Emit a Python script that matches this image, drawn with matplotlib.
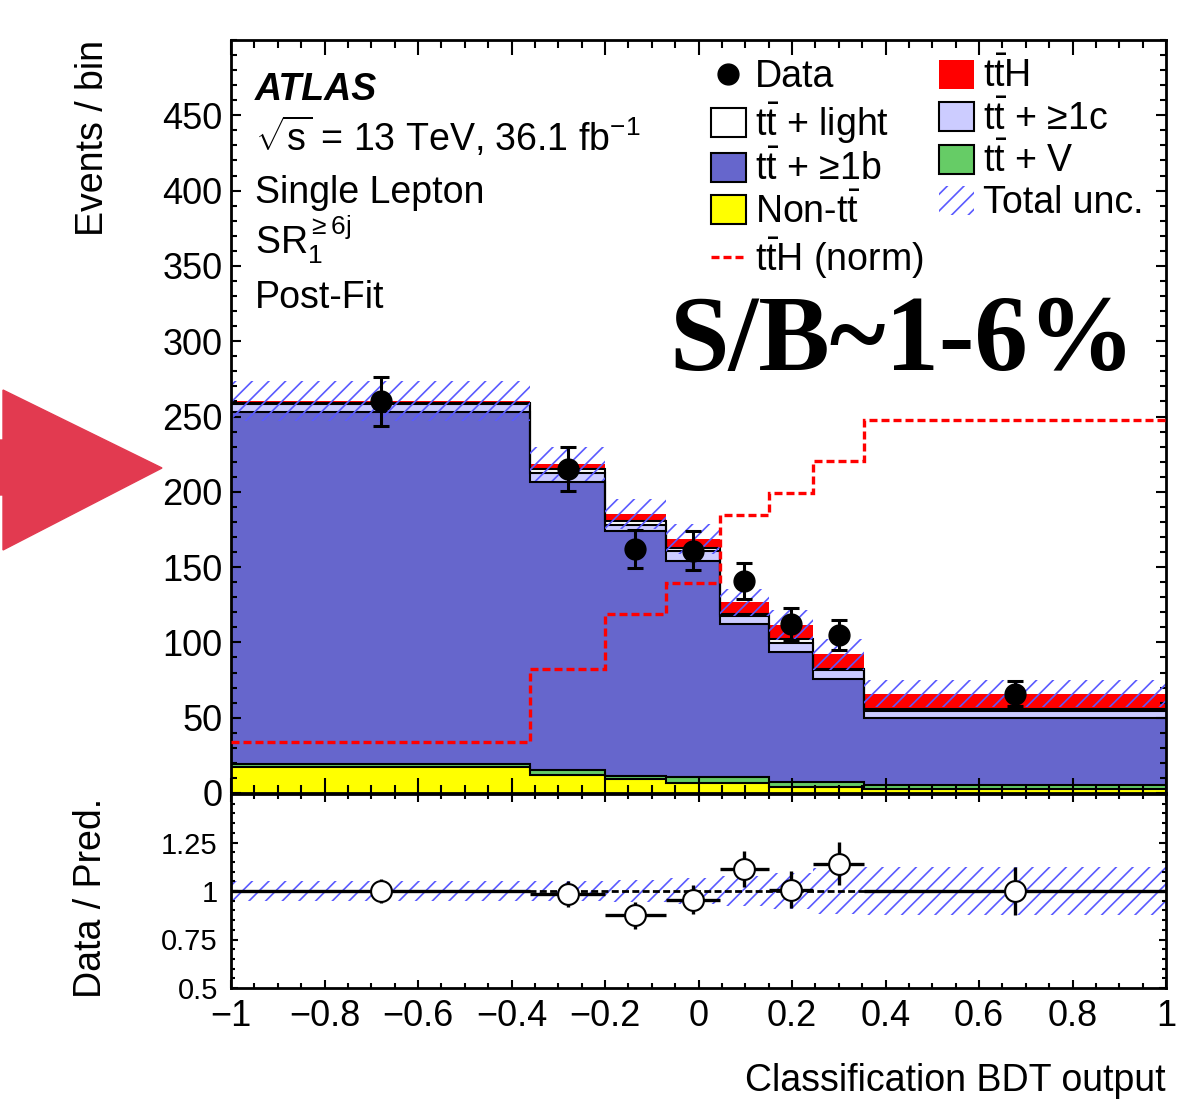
import numpy as np
import matplotlib
matplotlib.use('Agg')
import matplotlib.pyplot as plt
from matplotlib.patches import Patch, Polygon
from matplotlib.lines import Line2D
from matplotlib.ticker import MultipleLocator

plt.rcParams['font.family'] = ['Liberation Sans', 'DejaVu Sans']
plt.rcParams['mathtext.fontset'] = 'custom'
plt.rcParams['mathtext.rm'] = 'Liberation Sans'
plt.rcParams['mathtext.it'] = 'Liberation Sans:italic'
plt.rcParams['mathtext.bf'] = 'Liberation Sans:bold'
plt.rcParams['hatch.linewidth'] = 1.2

# bin edges of the classification BDT output
edges = [-1.0, -0.36, -0.2, -0.07, 0.045, 0.15, 0.245, 0.355, 1.0]

# post-fit stacked backgrounds (bottom to top)
non_tt = [17.0, 12.0, 9.0, 6.8, 6.4, 3.8, 3.8, 2.5]
tt_v = [2.2, 3.2, 2.5, 4.0, 4.4, 3.7, 3.3, 2.8]
tt_1b = [234.0, 191.4, 162.2, 143.1, 101.3, 86.1, 68.4, 44.6]
tt_1c = [4.9, 6.0, 4.3, 7.1, 5.6, 5.9, 6.4, 4.6]
tt_light = [1.0, 2.6, 2.8, 2.0, 1.3, 2.9, 0.7, 1.6]
tth = [1.1, 3.3, 4.4, 5.7, 7.7, 8.9, 9.4, 9.9]

data = [260, 215, 162, 161, 141, 112, 105, 66]
data_err = [16.5, 14.7, 12.7, 12.7, 11.9, 10.6, 10.2, 8.1]
tot_unc = [13.5, 11.2, 10.0, 10.0, 9.0, 10.0, 10.5, 9.0]
ratio_unc = [0.052, 0.052, 0.058, 0.068, 0.075, 0.095, 0.12, 0.125]
tth_norm = [33.6, 82.6, 119.0, 139.3, 184.8, 199.5, 220.5, 247.5]

xtick_vals = [-1, -0.8, -0.6, -0.4, -0.2, 0, 0.2, 0.4, 0.6, 0.8, 1]
xtick_labels = ['\u22121', '\u22120.8', '\u22120.6', '\u22120.4', '\u22120.2',
                '0', '0.2', '0.4', '0.6', '0.8', '1']
ytick_vals = [0, 50, 100, 150, 200, 250, 300, 350, 400, 450]
rtick_vals = [0.5, 0.75, 1, 1.25]
rtick_labels = ['0.5', '0.75', '1', '1.25']

W, H = 1197, 1106
fig = plt.figure(figsize=(W / 100, H / 100), dpi=100)
ax = fig.add_axes([231 / W, 1 - 793 / H, 935 / W, 753 / H])
ax2 = fig.add_axes([231 / W, 1 - 988 / H, 935 / W, 194 / H], sharex=ax)

edges_a = np.array(edges)
centers = 0.5 * (edges_a[1:] + edges_a[:-1])
halfw = 0.5 * (edges_a[1:] - edges_a[:-1])

comps = [(non_tt, '#ffff00', 'k'), (tt_v, '#66cc66', 'k'), (tt_1b, '#6666cc', 'k'),
         (tt_1c, '#ccccff', 'k'), (tt_light, '#ffffff', 'k'), (tth, '#ff0000', None)]
bottom = np.zeros(len(data))
for vals, col, lc in comps:
    top = bottom + np.array(vals)
    ax.stairs(top, edges, baseline=bottom, fill=True, color=col, lw=0, zorder=1)
    if lc:
        ax.stairs(top, edges, baseline=None, color=lc, lw=1.5, zorder=1.5)
    bottom = top
total = bottom

hatch_col = '#5a5aff'
ax.stairs(total + np.array(tot_unc), edges, baseline=total - np.array(tot_unc), fill=True,
          facecolor='none', edgecolor=hatch_col, hatch='//', lw=0, zorder=2)
ax.stairs(tth_norm, edges, baseline=None, color='red', lw=2.4, ls=(0, (2.4, 1.2)), zorder=3)
ax.errorbar(centers, data, yerr=data_err, fmt='o', color='k', ms=15, capsize=5.5,
            elinewidth=2.2, capthick=2.2, zorder=4)

ax.set_xlim(-1, 1)
ax.set_ylim(0, 500)
ax.set_yticks(ytick_vals)
ax.yaxis.set_minor_locator(MultipleLocator(10))
ax.xaxis.set_minor_locator(MultipleLocator(0.05))
ax.tick_params(which='both', direction='in', top=True, right=True, width=1.5,
               labelbottom=False)
ax.tick_params(axis='x', which='major', length=11)
ax.tick_params(axis='x', which='minor', length=6)
ax.tick_params(axis='y', which='major', length=7.5, labelsize=26, pad=6)
ax.tick_params(axis='y', which='minor', length=4.5)
for s in ax.spines.values():
    s.set_linewidth(2)
ax.set_ylabel('Events / bin', fontsize=27, loc='top')
ax.yaxis.set_label_coords(-0.128, 1.0)

# ratio panel
ratio = np.array(data) / total
ratio_err = np.array(data_err) / total
runc = np.array(ratio_unc)
ax2.stairs(1 + runc, edges, baseline=1 - runc, fill=True, facecolor='none',
           edgecolor=hatch_col, hatch='//', lw=0, zorder=1)
ax2.axhline(1, color='k', lw=2, ls=(0, (2.5, 1.2)), zorder=2)
ax2.errorbar(centers, ratio, xerr=halfw, yerr=ratio_err, fmt='o', color='k', mfc='white',
             mec='k', mew=1.5, ms=15, elinewidth=2.4, capsize=0, zorder=3)
ax2.set_ylim(0.5, 1.5)
ax2.set_yticks(rtick_vals)
ax2.set_yticklabels(rtick_labels)
ax2.yaxis.set_minor_locator(MultipleLocator(0.05))
ax2.set_xticks(xtick_vals)
ax2.set_xticklabels(xtick_labels)
ax2.tick_params(which='both', direction='in', top=True, right=True, width=1.5)
ax2.tick_params(axis='x', which='major', length=6, labelsize=26, pad=8)
ax2.tick_params(axis='x', which='minor', length=3.5)
ax2.tick_params(axis='y', which='major', length=5, labelsize=21, pad=9.5)
ax2.tick_params(axis='y', which='minor', length=3)
for s in ax2.spines.values():
    s.set_linewidth(2)
ax2.set_ylabel('Data / Pred.', fontsize=27)
ax2.yaxis.set_label_coords(-0.131, 0.466)
ax2.set_xlabel('Classification BDT output', fontsize=27, loc='right')
ax2.xaxis.set_label_coords(1.0, -0.387)

# legend
tt = r'$\mathrm{t\bar{t}}$'
handles = [
    Line2D([], [], marker='o', color='k', ms=15, ls='none'),
    Patch(facecolor='#ffffff', edgecolor='k', lw=1.5),
    Patch(facecolor='#6666cc', edgecolor='k', lw=1.5),
    Patch(facecolor='#ffff00', edgecolor='k', lw=1.5),
    Line2D([], [], color='red', lw=2.4, ls=(0, (2.4, 1.2))),
    Patch(facecolor='#ff0000', edgecolor='none'),
    Patch(facecolor='#ccccff', edgecolor='k', lw=1.5),
    Patch(facecolor='#66cc66', edgecolor='k', lw=1.5),
    Patch(facecolor='none', edgecolor=hatch_col, hatch='//', lw=0),
]
labels = ['Data', tt + ' + light', tt + ' + \u22651b', 'Non-' + tt,
          r'$\mathrm{t\bar{t}H}$ (norm)', r'$\mathrm{t\bar{t}H}$',
          tt + ' + \u22651c', tt + ' + V', 'Total unc.']
ax.legend(handles, labels, ncol=2, loc='upper left', bbox_to_anchor=(0.5134, 0.976),
          frameon=False, fontsize=27, handlelength=0.92, handleheight=0.8,
          handletextpad=0.25, columnspacing=0.42, labelspacing=0.14,
          borderaxespad=0, borderpad=0)

# labels
x0 = 255 / W
fig.text(x0, 1 - 100 / H, 'ATLAS', fontsize=27, fontweight='bold', fontstyle='italic',
         va='baseline')
fig.text(x0, 1 - 151 / H, r'$\sqrt{\mathrm{s}}$ = 13 TeV, 36.1 fb$^{-1}$', fontsize=27,
         va='baseline')
fig.text(x0, 1 - 203 / H, 'Single Lepton', fontsize=27, va='baseline')
fig.text(x0, 1 - 253 / H, r'SR$_{1}^{\mathrm{\geq 6j}}$', fontsize=27, va='baseline')
fig.text(x0, 1 - 308 / H, 'Post-Fit', fontsize=27, va='baseline')
fig.text(1135 / W, 1 - 370 / H, 'S/B~1-6%', fontsize=77, family=['Liberation Serif'],
         fontweight='bold', ha='right', va='baseline')

# red arrow on the left edge
arrow_px = [(0, 440), (3, 440), (3, 390), (162, 468), (3, 550), (3, 495), (0, 495)]
arrow = Polygon([(px / W, 1 - py / H) for px, py in arrow_px], closed=True,
                transform=fig.transFigure, color='#e23a50')
fig.add_artist(arrow)

fig.savefig('out.png', dpi=100)
